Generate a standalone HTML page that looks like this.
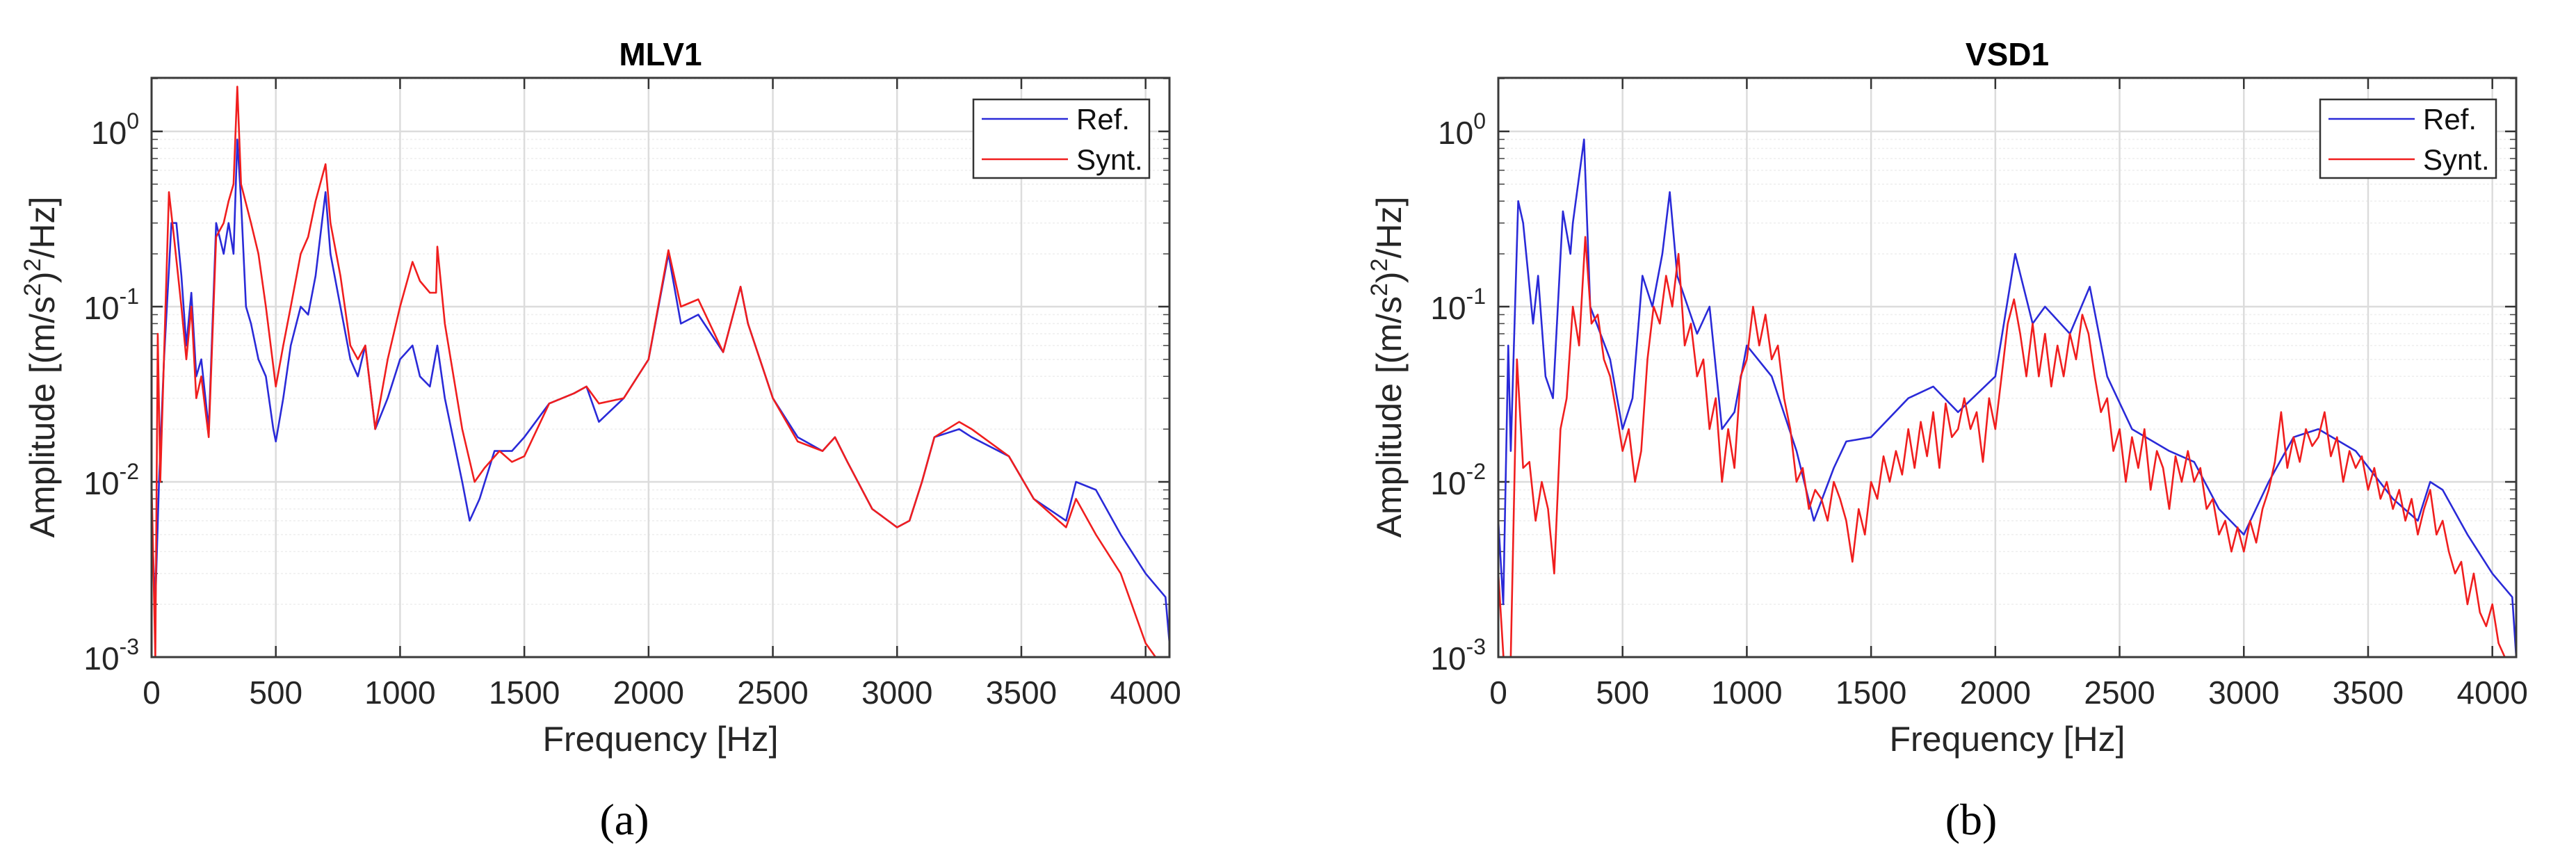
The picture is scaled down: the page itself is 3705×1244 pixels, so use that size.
<!DOCTYPE html>
<html><head><meta charset="utf-8"><style>
html,body{margin:0;padding:0;background:#fff;}
svg{display:block;font-family:"Liberation Sans",sans-serif;}
</style></head><body>
<svg id="fig" width="3705" height="1244" viewBox="0 0 3705 1244"></svg>
<script>
// ---- data ----
const xTicks = [0,500,1000,1500,2000,2500,3000,3500,4000];
const yTickExp = [0,-1,-2,-3];
const mlvRefF = [0,15,30,50,80,100,120,140,160,180,200,230,260,290,310,330,345,360,380,400,430,460,490,500,530,560,600,630,660,700,720,760,800,830,860,900,950,1000,1050,1080,1120,1150,1180,1250,1280,1320,1380,1450,1500,1600,1700,1750,1800,1900,2000,2080,2130,2200,2300,2370,2400,2500,2600,2700,2750,2800,2900,3000,3050,3100,3150,3250,3300,3450,3550,3680,3720,3800,3900,4000,4080,4096];
const mlvRefV = [0.006,0.002,0.01,0.05,0.3,0.3,0.15,0.06,0.12,0.04,0.05,0.02,0.3,0.2,0.3,0.2,0.9,0.4,0.1,0.08,0.05,0.04,0.02,0.017,0.03,0.06,0.1,0.09,0.15,0.45,0.2,0.1,0.05,0.04,0.06,0.02,0.03,0.05,0.06,0.04,0.035,0.06,0.03,0.01,0.006,0.008,0.015,0.015,0.018,0.028,0.032,0.035,0.022,0.03,0.05,0.2,0.08,0.09,0.055,0.13,0.08,0.03,0.018,0.015,0.018,0.013,0.007,0.0055,0.006,0.01,0.018,0.02,0.018,0.014,0.008,0.006,0.01,0.009,0.005,0.003,0.0022,0.0012];
const mlvSynF = [0,15,25,35,70,90,120,140,160,180,200,230,260,290,310,330,345,360,400,430,460,500,530,560,600,630,660,700,720,760,800,830,860,900,950,1000,1050,1080,1120,1145,1150,1180,1250,1300,1340,1400,1450,1500,1600,1700,1750,1800,1900,2000,2080,2130,2200,2300,2370,2400,2500,2600,2700,2750,2800,2900,3000,3050,3100,3150,3250,3300,3450,3550,3680,3720,3800,3900,4000,4040];
const mlvSynV = [0.01,0.001,0.07,0.01,0.45,0.25,0.1,0.05,0.1,0.03,0.04,0.018,0.25,0.3,0.4,0.5,1.8,0.5,0.3,0.2,0.1,0.035,0.06,0.1,0.2,0.25,0.4,0.65,0.3,0.15,0.06,0.05,0.06,0.02,0.05,0.1,0.18,0.14,0.12,0.12,0.22,0.08,0.02,0.01,0.012,0.015,0.013,0.014,0.028,0.032,0.035,0.028,0.03,0.05,0.21,0.1,0.11,0.055,0.13,0.08,0.03,0.017,0.015,0.018,0.013,0.007,0.0055,0.006,0.01,0.018,0.022,0.02,0.014,0.008,0.0055,0.008,0.005,0.003,0.0012,0.001];
const vsdRefF = [0,20,40,50,80,100,140,160,190,220,260,290,300,345,370,450,500,540,580,620,660,690,720,800,850,900,950,1000,1100,1200,1270,1350,1400,1500,1650,1750,1850,2000,2080,2150,2200,2300,2380,2450,2550,2700,2800,2900,3000,3100,3200,3300,3450,3600,3700,3750,3800,3900,4000,4080,4096];
const vsdRefV = [0.006,0.002,0.06,0.015,0.4,0.3,0.08,0.15,0.04,0.03,0.35,0.2,0.3,0.9,0.1,0.05,0.02,0.03,0.15,0.1,0.2,0.45,0.15,0.07,0.1,0.02,0.025,0.06,0.04,0.015,0.006,0.012,0.017,0.018,0.03,0.035,0.025,0.04,0.2,0.08,0.1,0.07,0.13,0.04,0.02,0.015,0.013,0.007,0.005,0.01,0.018,0.02,0.015,0.008,0.006,0.01,0.009,0.005,0.003,0.0022,0.001];
const vsdSynStep = 25;
const vsdSynV = [0.003,0.0008,0.001,0.05,0.012,0.013,0.006,0.01,0.007,0.003,0.02,0.03,0.1,0.06,0.25,0.08,0.09,0.05,0.04,0.025,0.015,0.02,0.01,0.015,0.05,0.1,0.08,0.15,0.1,0.2,0.06,0.08,0.04,0.05,0.02,0.03,0.01,0.02,0.012,0.04,0.05,0.1,0.06,0.09,0.05,0.06,0.03,0.02,0.01,0.012,0.007,0.009,0.008,0.006,0.01,0.008,0.006,0.0035,0.007,0.005,0.01,0.008,0.014,0.01,0.015,0.011,0.02,0.012,0.022,0.014,0.025,0.012,0.028,0.018,0.02,0.03,0.02,0.025,0.013,0.03,0.02,0.04,0.08,0.11,0.07,0.04,0.08,0.04,0.07,0.035,0.06,0.04,0.07,0.05,0.09,0.07,0.04,0.025,0.03,0.015,0.02,0.01,0.018,0.012,0.02,0.009,0.015,0.012,0.007,0.014,0.01,0.015,0.01,0.012,0.007,0.008,0.005,0.006,0.004,0.0055,0.004,0.006,0.0045,0.007,0.009,0.013,0.025,0.012,0.018,0.013,0.02,0.016,0.018,0.025,0.014,0.018,0.01,0.015,0.012,0.014,0.009,0.012,0.008,0.01,0.007,0.009,0.006,0.008,0.005,0.007,0.009,0.005,0.006,0.004,0.003,0.0035,0.002,0.003,0.0018,0.0015,0.002,0.0012,0.001,0.0009];

// ---- layout ----
const NS='http://www.w3.org/2000/svg';
const svg=document.getElementById('fig');
const XMAX=4096, YTOP=Math.log10(2.02), YBOT=-3;
function mk(tag,attrs,parent){const e=document.createElementNS(NS,tag);for(const k in attrs)e.setAttribute(k,attrs[k]);(parent||svg).appendChild(e);return e;}

function panel(id,L,title,letter,refF,refV,synF,synV){
  const T=112,B=945,W=1464,R=L+W;
  const xs=f=>L+f/XMAX*W;
  const ys=v=>T+(YTOP-Math.log10(v))/(YTOP-YBOT)*(B-T);
  const g=mk('g',{});
  
  
  mk('rect',{x:L,y:T,width:W,height:B-T,fill:'#fff'},g);
  // minor y grid
  for(let e=-3;e<=0;e++)for(let m=2;m<=9;m++){const v=m*Math.pow(10,e);if(Math.log10(v)>YTOP)continue;const y=ys(v);
    const ln=mk('line',{x1:L,x2:R,y1:y,y2:y,stroke:'#eeeeee','stroke-width':1.5,'stroke-dasharray':'3,3'},g);
    
    mk('line',{x1:L,x2:L+9,y1:y,y2:y,stroke:'#444','stroke-width':1.5},g);
    mk('line',{x1:R-9,x2:R,y1:y,y2:y,stroke:'#444','stroke-width':1.5},g);}
  // major grids
  yTickExp.forEach(e=>{const y=ys(Math.pow(10,e));
    const ln=mk('line',{x1:L,x2:R,y1:y,y2:y,stroke:'#dcdcdc','stroke-width':2.5},g);
    
    mk('line',{x1:L,x2:L+16,y1:y,y2:y,stroke:'#333','stroke-width':2.5},g);
    mk('line',{x1:R-16,x2:R,y1:y,y2:y,stroke:'#333','stroke-width':2.5},g);
    const t=mk('text',{x:L-18,y:y+18,'text-anchor':'end','font-size':46,fill:'#262626'},g);
    
    t.appendChild(document.createTextNode('10'));
    const s=mk('tspan',{dy:-22,'font-size':32},t);s.textContent=String(e);
  });
  xTicks.forEach(f=>{const x=xs(f);
    const ln=mk('line',{x1:x,x2:x,y1:T,y2:B,stroke:'#dcdcdc','stroke-width':2.5},g);
    
    mk('line',{x1:x,x2:x,y1:B-16,y2:B,stroke:'#333','stroke-width':2.5},g);
    mk('line',{x1:x,x2:x,y1:T,y2:T+16,stroke:'#333','stroke-width':2.5},g);
    const t=mk('text',{x:x,y:1012,'text-anchor':'middle','font-size':46,fill:'#262626'},g);
    
    t.textContent=String(f);});
  // clip
  const cp=mk('clipPath',{id:'clip-'+id},g);mk('rect',{x:L,y:T,width:W,height:B-T},cp);
  function line(F,V,col,name){let d='';for(let i=0;i<V.length;i++){d+=(i?'L':'M')+xs(F[i]).toFixed(1)+','+ys(V[i]).toFixed(1);}
    const p=mk('path',{d:d,fill:'none',stroke:col,'stroke-width':2.6,'stroke-linejoin':'round','clip-path':'url(#clip-'+id+')'},g);
    }
  line(refF,refV,'#2a2ad8',id+'-ref-line');
  line(synF,synV,'#f01e1e',id+'-synt-line');
  const box=mk('rect',{x:L,y:T,width:W,height:B-T,fill:'none',stroke:'#3a3a3a','stroke-width':3},g);
  
  // legend
  const lg=mk('g',{},g);
  const lx=L+1182;
  mk('rect',{x:lx,y:143,width:253,height:113,fill:'#fff',stroke:'#333','stroke-width':2.5},lg);
  mk('line',{x1:lx+12,x2:lx+136,y1:171,y2:171,stroke:'#2a2ad8','stroke-width':2.6},lg);
  mk('line',{x1:lx+12,x2:lx+136,y1:229,y2:229,stroke:'#f01e1e','stroke-width':2.6},lg);
  const a=mk('text',{x:lx+148,y:186,'font-size':42,fill:'#111'},lg);a.textContent='Ref.';
  const b=mk('text',{x:lx+148,y:244,'font-size':42,fill:'#111'},lg);b.textContent='Synt.';
  const cx=(L+R)/2;
  const tt=mk('text',{x:cx,y:94,'text-anchor':'middle','font-size':46,'font-weight':'bold',fill:'#000'},g);
  tt.textContent=title;
  const xl=mk('text',{x:cx,y:1080,'text-anchor':'middle','font-size':50,fill:'#262626'},g);
  xl.textContent='Frequency [Hz]';
  const yx=L-140;
  const yl=mk('text',{x:yx,y:528,'text-anchor':'middle','font-size':50,fill:'#262626',transform:'rotate(-90 '+yx+' 528)'},g);
  
  yl.appendChild(document.createTextNode('Amplitude [(m/s'));
  const s1=mk('tspan',{dy:-20,'font-size':34},yl);s1.textContent='2';
  const s2=mk('tspan',{dy:-2,'font-size':34},yl);s2.textContent=')';
  const s3=mk('tspan',{'font-size':34,dy:0},yl);
  s2.textContent='';s2.setAttribute('dy','20');s2.setAttribute('font-size','50');s2.textContent=')';
  s3.setAttribute('dy','-20');s3.textContent='2';
  const s4=mk('tspan',{dy:20,'font-size':50},yl);s4.textContent='/Hz]';
  const lt=mk('text',{x:cx-52,y:1200,'text-anchor':'middle','font-size':64,fill:'#000','font-family':'"Liberation Serif",serif'},g);
  lt.textContent=letter;
}
const vsdSynF = vsdSynV.map((v,i)=>i*vsdSynStep);
panel('mlv1',218,'MLV1','(a)',mlvRefF,mlvRefV,mlvSynF,mlvSynV);
panel('vsd1',2155,'VSD1','(b)',vsdRefF,vsdRefV,vsdSynF,vsdSynV);
</script>
</body></html>
